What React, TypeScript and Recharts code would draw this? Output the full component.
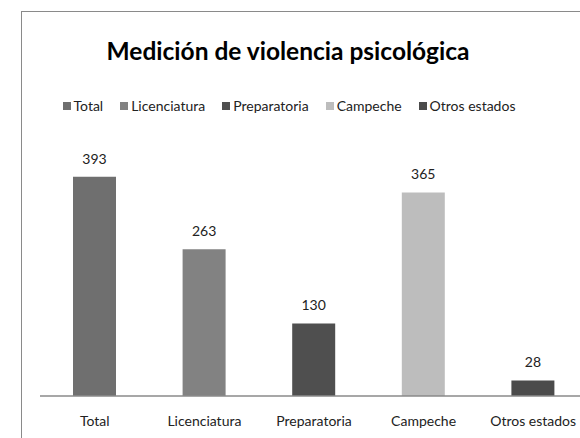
import { BarChart, Bar, XAxis, YAxis, Cell, LabelList } from "recharts";

// Categories and their counts
const CATEGORIES = ["Total", "Licenciatura", "Preparatoria", "Campeche", "Otros estados"];
const VALUES = [393, 263, 130, 365, 28];
const COLORS = ["#6f6f6f", "#828282", "#4f4f4f", "#bdbdbd", "#4b4b4b"];

const FONT = 'Lato, "Open Sans", sans-serif';

const data = CATEGORIES.map((name, i) => ({ name, value: VALUES[i] }));

const LegendRow = () => (
  <div
    style={{
      display: "flex",
      justifyContent: "center",
      gap: 17,
      fontFamily: FONT,
      fontSize: 14,
      color: "#222",
    }}
  >
    {CATEGORIES.map((name, i) => (
      <span key={name} style={{ display: "flex", alignItems: "center" }}>
        <span
          style={{
            width: 8,
            height: 8,
            background: COLORS[i],
            marginRight: 3,
            display: "inline-block",
          }}
        />
        {name}
      </span>
    ))}
  </div>
);

export default function App() {
  return (
    <div
      style={{
        position: "absolute",
        left: 0,
        top: 0,
        width: 580,
        height: 438,
        overflow: "hidden",
        background: "#fff",
      }}
    >
      {/* chart frame, clipped on the right and bottom like the source */}
      <div
        style={{
          position: "absolute",
          left: 21,
          top: 11,
          width: 620,
          height: 500,
          border: "1.5px solid #8a8a8a",
        }}
      />
      <div
        style={{
          position: "absolute",
          left: 0,
          width: 576,
          top: 36,
          textAlign: "center",
          fontFamily: FONT,
          fontWeight: "bold",
          fontSize: 24.5,
          color: "#000",
        }}
      >
        Medición de violencia psicológica
      </div>
      <div style={{ position: "absolute", left: 0, width: 578, top: 97 }}>
        <LegendRow />
      </div>
      <div style={{ position: "absolute", left: 0, top: 0 }}>
        <BarChart
          width={600}
          height={438}
          data={data}
          margin={{ top: 145, right: 12, bottom: 0, left: 40 }}
        >
          <XAxis
            dataKey="name"
            height={42}
            axisLine={{ stroke: "#8a8a8a", strokeWidth: 1.5 }}
            tickLine={false}
            tickSize={0}
            tickMargin={20}
            interval={0}
            tick={{ fontSize: 14, fill: "#222", fontFamily: FONT }}
          />
          <YAxis hide domain={[0, 450]} />
          <Bar dataKey="value" barSize={43} isAnimationActive={false}>
            {data.map((_d, i) => (
              <Cell key={`c-${i}`} fill={COLORS[i]} />
            ))}
            <LabelList
              dataKey="value"
              position="top"
              offset={13}
              style={{ fontSize: 14, fill: "#222", fontFamily: FONT }}
            />
          </Bar>
        </BarChart>
      </div>
    </div>
  );
}
